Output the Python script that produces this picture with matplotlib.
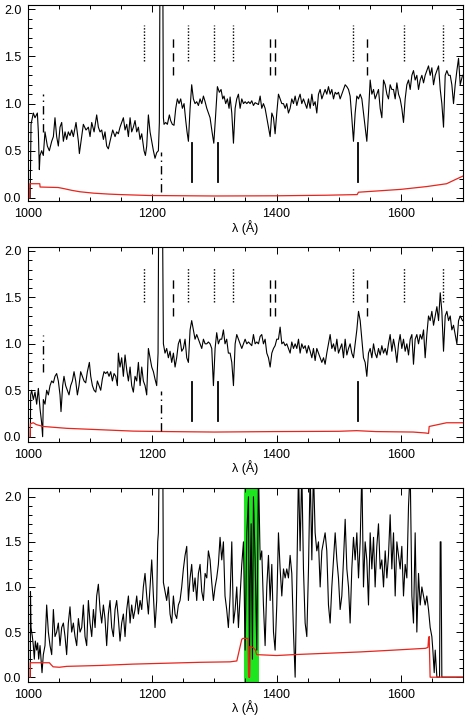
import numpy as np
import matplotlib
matplotlib.use("Agg")
import matplotlib.pyplot as plt

plt.rcParams['font.family'] = ['Liberation Sans', 'DejaVu Sans']

# ---------------- Panel 1 spectrum ----------------
wave1 = [1003.0, 1004.4, 1008.1, 1010.8, 1014.6, 1016.2, 1017.8, 1018.9, 1021.5, 1024.2,
         1026.9, 1030.7, 1033.9, 1037.7, 1040.4, 1043.0, 1045.7, 1048.4, 1051.1, 1053.8,
         1056.5, 1059.2, 1061.8, 1064.5, 1067.2, 1069.9, 1072.6, 1076.9, 1080.7, 1082.3,
         1086.1, 1088.7, 1093.0, 1096.8, 1099.5, 1102.2, 1106.0, 1110.2, 1112.9, 1115.6,
         1118.3, 1121.0, 1123.6, 1126.3, 1129.0, 1131.7, 1136.0, 1139.8, 1142.4, 1145.1,
         1147.8, 1150.5, 1153.2, 1155.9, 1158.6, 1161.3, 1164.0, 1166.6, 1169.3, 1172.0,
         1174.7, 1177.4, 1180.1, 1182.8, 1186.5, 1188.7, 1190.8, 1193.5, 1196.2, 1198.9,
         1201.6, 1204.2, 1206.9, 1209.6, 1211.2, 1212.3, 1216.6, 1217.7, 1218.7, 1221.4,
         1224.1, 1227.3, 1229.4, 1232.1, 1234.8, 1237.6, 1240.2, 1242.9, 1245.6, 1248.3,
         1251.0, 1253.7, 1255.8, 1258.0, 1260.7, 1263.3, 1266.0, 1268.7, 1271.4, 1274.1,
         1276.8, 1279.5, 1282.2, 1284.9, 1287.6, 1290.2, 1292.9, 1296.1, 1298.9, 1301.6,
         1304.7, 1307.9, 1310.6, 1313.3, 1315.4, 1318.1, 1320.8, 1323.5,
         1325.2, 1327.9, 1330.6, 1333.3, 1335.9, 1338.6, 1341.3, 1344.0, 1346.7, 1349.4,
         1352.1, 1354.8, 1357.4, 1360.1, 1362.8, 1365.5, 1368.2, 1370.9, 1373.6, 1376.2,
         1378.9, 1381.6, 1384.3, 1387.0, 1389.7, 1392.4, 1395.1, 1397.7, 1400.4, 1403.1,
         1405.8, 1408.5, 1411.2, 1413.9, 1416.5, 1419.2, 1421.9, 1424.6, 1427.3, 1430.0,
         1432.7, 1435.4, 1438.0, 1440.7, 1443.4, 1446.1, 1448.8, 1451.5, 1454.2, 1456.9,
         1459.5, 1462.2, 1464.9, 1467.6, 1470.3, 1473.0, 1475.7, 1478.3, 1481.0, 1483.7,
         1486.4, 1489.1, 1491.8, 1494.5, 1497.2, 1499.8, 1502.5, 1505.2, 1507.9, 1510.6,
         1513.3, 1516.0, 1518.6, 1521.3, 1524.0, 1526.7, 1529.4, 1532.1, 1534.8, 1537.5,
         1540.1, 1542.8, 1545.5, 1548.2, 1550.9, 1553.6, 1556.3, 1558.9, 1561.6, 1564.3,
         1567.0, 1569.7, 1572.4, 1575.1, 1577.8, 1580.4, 1583.1, 1585.8, 1588.5, 1591.2,
         1593.9, 1596.6, 1599.2, 1601.9, 1604.6, 1607.3, 1610.0, 1612.7, 1615.4, 1618.1,
         1620.7, 1623.4, 1626.1, 1628.8, 1631.5, 1634.2, 1636.9, 1639.5, 1642.2, 1644.9,
         1647.6, 1650.3, 1653.0, 1655.7, 1658.4, 1661.1, 1663.8, 1666.4, 1669.1, 1671.8,
         1674.5, 1677.2, 1679.9, 1682.5, 1685.2, 1687.9, 1690.6, 1693.3, 1696.0, 1699.7]
flux1 = [0.0, 0.78, 0.9, 0.85, 0.9, 0.7, 0.3, 0.45, 0.5, 0.45,
         0.7, 0.55, 0.5, 0.6, 0.65, 0.85, 0.65, 0.55, 0.75, 0.8,
         0.6, 0.7, 0.62, 0.7, 0.66, 0.72, 0.65, 0.8, 0.6, 0.47,
         0.65, 0.78, 0.72, 0.75, 0.65, 0.8, 0.7, 0.88, 0.75, 0.7,
         0.72, 0.62, 0.7, 0.55, 0.52, 0.6, 0.72, 0.65, 0.7, 0.68,
         0.75, 0.8, 0.85, 0.72, 0.78, 0.65, 0.85, 0.7, 0.75, 0.82,
         0.7, 0.75, 0.62, 0.68, 0.5, 0.45, 0.55, 0.88, 0.7, 0.6,
         0.5, 0.42, 0.48, 0.5, 0.8, 2.6, 2.6, 0.85, 0.78, 0.8,
         0.78, 0.88, 0.82, 0.78, 0.77, 0.95, 1.05, 1.0, 1.05, 0.95,
         1.0, 0.82, 0.7, 0.6, 0.95, 1.2, 1.05, 1.0, 1.02, 0.98,
         1.05, 1.0, 1.08, 1.02, 0.95, 0.9, 0.85, 0.7, 0.58, 0.85,
         1.18, 1.12, 1.15, 1.05, 1.08, 1.0, 1.05, 0.95,
         1.07, 0.9, 0.58, 0.95, 1.05, 1.1, 0.95, 1.05, 1.0, 1.02,
         1.0, 1.02, 1.0, 1.03, 0.98, 1.01, 1.0, 0.99, 1.08, 0.95,
         1.0, 0.95, 0.85, 0.75, 0.65, 0.9, 0.85, 0.68, 0.9, 1.1,
         1.05, 1.0, 1.0, 0.95, 1.0, 0.9, 0.95, 1.05, 1.0, 1.08,
         0.98, 1.05, 1.1, 1.0, 1.05, 1.0, 0.95, 1.05, 0.95, 1.1,
         0.98, 1.02, 0.9, 1.1, 1.15, 1.05, 1.1, 1.15, 1.1, 1.18,
         1.1, 1.15, 1.05, 1.12, 1.1, 1.12, 1.05, 1.1, 1.15, 1.2,
         1.18, 1.15, 1.08, 0.85, 0.6, 0.9, 1.08, 1.05, 1.1, 1.05,
         0.9, 0.75, 0.6, 0.9, 1.25, 1.1, 1.15, 1.05, 1.1, 1.15,
         0.95, 0.85, 1.25, 1.2, 1.1, 1.05, 1.2, 1.15, 1.15, 1.05,
         1.22, 1.1, 1.05, 0.95, 0.8, 1.05, 1.2, 1.25, 1.15, 1.3,
         1.35, 1.25, 1.3, 1.15, 1.25, 1.3, 1.22, 1.3, 1.35, 1.4,
         1.3, 1.38, 1.2, 1.3, 1.35, 1.4, 1.15, 1.0, 0.75, 1.3,
         1.35, 1.3, 1.3, 1.2, 1.0, 1.2, 1.35, 1.48, 1.2, 1.3]
err_wave1 = [1002.0, 1002.5, 1018.5, 1019.0, 1048.0, 1056.0, 1070.0, 1083.0, 1105.0, 1130.0,
             1148.0, 1196.0, 1300.0, 1400.0, 1480.0, 1530.0, 1532.0, 1566.0, 1600.0, 1642.0,
             1674.0, 1690.0, 1700.0]
err1 = [0.0, 0.15, 0.15, 0.115, 0.11, 0.10, 0.08, 0.065, 0.05, 0.04,
        0.035, 0.025, 0.02, 0.022, 0.028, 0.035, 0.06, 0.075, 0.09, 0.12,
        0.15, 0.2, 0.23]

# ---------------- Panel 2 spectrum ----------------
wave2 = [1003.3, 1003.8, 1005.4, 1008.1, 1010.8, 1013.5, 1016.2, 1018.9, 1021.5, 1023.1,
         1024.2, 1026.9, 1029.6, 1032.3, 1035.0, 1037.7, 1040.4, 1043.0, 1045.7, 1048.4,
         1051.1, 1052.7, 1055.4, 1057.5, 1060.2, 1062.9, 1065.6, 1068.3, 1071.0, 1073.7,
         1076.4, 1079.1, 1081.7, 1084.4, 1087.1, 1089.8, 1092.5, 1095.2, 1098.4, 1100.6,
         1103.3, 1106.0, 1108.7, 1111.3, 1114.0, 1116.7, 1119.3, 1122.0, 1124.7, 1127.4,
         1130.1, 1132.8, 1135.5, 1138.2, 1140.9, 1143.5, 1145.1, 1147.8, 1150.5, 1153.2,
         1155.9, 1158.6, 1161.3, 1164.0, 1166.6, 1169.3, 1172.0, 1174.7, 1177.4, 1180.1,
         1182.8, 1185.4, 1188.1, 1190.8, 1193.5, 1196.2, 1198.9, 1201.6, 1204.2, 1206.9,
         1209.1, 1210.2, 1216.0, 1217.7, 1220.3, 1223.0, 1225.7, 1228.4, 1231.1, 1233.8,
         1236.5, 1239.1, 1241.8, 1244.5, 1247.2, 1249.9, 1252.6, 1255.3, 1258.0, 1260.7,
         1263.3, 1266.0, 1268.7, 1271.4, 1274.1, 1276.8, 1279.5, 1282.2, 1284.9, 1287.6,
         1290.2, 1292.9, 1295.6, 1298.3, 1301.0, 1303.6, 1306.3, 1309.0, 1311.7, 1314.4,
         1317.0, 1319.7, 1322.4,
         1325.2, 1327.9, 1330.6, 1333.3, 1335.9, 1338.6, 1341.3, 1344.0, 1346.7, 1349.4,
         1352.1, 1354.8, 1357.4, 1360.1, 1362.8, 1365.5, 1368.2, 1370.9, 1373.6, 1376.2,
         1378.9, 1381.6, 1384.3, 1387.0, 1389.7, 1392.4, 1395.1, 1397.7, 1400.4, 1403.1,
         1405.8, 1408.5, 1411.2, 1413.9, 1416.5, 1419.2, 1421.9, 1424.6, 1427.3, 1430.0,
         1432.7, 1435.4, 1438.0, 1440.7, 1443.4, 1446.1, 1448.8, 1451.5, 1454.2, 1456.9,
         1459.5, 1462.2, 1464.9, 1467.6, 1470.3, 1473.0, 1475.7, 1478.3, 1481.0, 1483.7,
         1486.4, 1489.1, 1491.8, 1494.5, 1497.2, 1499.8, 1502.5, 1505.2, 1507.9, 1510.6,
         1513.3, 1516.0, 1518.6, 1521.3, 1524.0, 1526.7, 1529.4, 1532.1, 1534.8, 1537.5,
         1540.1, 1542.8, 1545.5, 1548.2, 1550.9, 1553.6, 1556.3, 1558.9, 1561.6, 1564.3,
         1567.0, 1569.7, 1572.4, 1575.1, 1577.8, 1580.4, 1583.1, 1585.8, 1588.5, 1591.2,
         1593.9, 1596.6, 1599.2, 1601.9, 1604.6, 1607.3, 1610.0, 1612.7, 1615.4, 1618.1,
         1620.7, 1623.4, 1626.1, 1628.8, 1631.5, 1634.2, 1636.9, 1639.5, 1642.2, 1644.9,
         1647.6, 1650.3, 1653.0, 1655.7, 1658.4, 1661.1, 1663.8, 1666.4, 1669.1, 1671.8,
         1674.5, 1677.2, 1679.9, 1682.5, 1685.2, 1687.9, 1690.6, 1693.3, 1696.0, 1699.7]
flux2 = [0.0, 0.45, 0.5, 0.4, 0.48, 0.35, 0.52, 0.3, 0.15, 0.0,
         0.4, 0.35, 0.5, 0.45, 0.55, 0.6, 0.58, 0.65, 0.68, 0.6,
         0.45, 0.27, 0.55, 0.65, 0.55, 0.5, 0.45, 0.55, 0.6, 0.7,
         0.6, 0.45, 0.55, 0.7, 0.65, 0.6, 0.58, 0.7, 0.8, 0.65,
         0.55, 0.5, 0.48, 0.6, 0.55, 0.5, 0.62, 0.7, 0.68, 0.7,
         0.65, 0.7, 0.6, 0.68, 0.65, 0.55, 0.9, 0.75, 0.85, 0.65,
         0.88, 0.72, 0.6, 0.75, 0.55, 0.48, 0.65, 0.6, 0.8, 0.55,
         0.75, 0.6, 0.55, 0.45, 0.95, 0.85, 0.75, 0.7, 0.62, 0.55,
         0.9, 2.6, 2.6, 1.0, 0.9, 0.95, 0.85, 0.92, 0.8, 0.9,
         0.75, 0.85, 1.0, 1.05, 0.92, 0.95, 1.05, 0.85, 0.8, 1.15,
         1.25, 1.15, 1.05, 1.1, 1.05, 1.0, 0.95, 1.05, 1.0, 1.0,
         1.02, 1.0, 0.95, 0.55, 0.95, 1.12, 1.0, 1.05, 1.05, 1.15,
         1.0, 1.05, 0.9,
         0.9, 0.8, 0.55, 1.0, 1.1, 1.05, 1.0, 0.95, 1.0, 1.05,
         1.0, 1.02, 1.0, 0.98, 1.1, 1.0, 1.02, 1.0, 1.08, 1.1,
         1.0, 1.05, 0.9, 0.85, 0.75, 0.9, 0.95, 0.98, 1.05, 1.05,
         1.18, 1.0, 1.02, 0.98, 1.0, 0.95, 0.9, 1.02, 0.95, 1.0,
         0.95, 1.05, 0.9, 1.0, 0.95, 0.98, 0.9, 0.98, 0.92, 0.85,
         0.95, 0.82, 0.95, 0.9, 0.85, 0.8, 0.85, 0.78, 0.9, 1.0,
         1.1, 0.95, 1.0, 0.92, 1.05, 0.9, 0.95, 1.0, 0.85, 1.05,
         0.88, 0.95, 1.0, 0.9, 0.85, 1.0, 1.15, 1.35, 1.25, 1.05,
         0.85, 0.8, 0.65, 0.9, 0.95, 0.85, 1.0, 0.9, 0.85, 0.95,
         0.88, 0.98, 0.9, 0.95, 0.88, 1.0, 1.1, 0.92, 1.05, 0.95,
         0.8, 1.0, 1.1, 0.95, 1.05, 0.92, 1.0, 0.88, 1.05, 1.1,
         0.78, 1.05, 1.1, 1.0, 1.1, 1.05, 1.15, 0.85, 1.1, 1.3,
         1.25, 1.35, 1.2, 1.3, 1.4, 1.25, 1.55, 1.35, 0.92, 1.3,
         1.35, 1.25, 1.3, 1.15, 1.2, 1.1, 1.0, 1.25, 1.3, 1.25]
err_wave2 = [1003.0, 1003.5, 1008.0, 1013.0, 1024.0, 1062.0, 1116.0, 1169.0, 1223.0, 1300.0,
             1400.0, 1500.0, 1529.0, 1560.0, 1620.0, 1640.0, 1645.0, 1646.0, 1660.0, 1674.0,
             1700.0]
err2 = [0.0, 0.14, 0.15, 0.13, 0.11, 0.09, 0.075, 0.06, 0.055, 0.05,
        0.055, 0.058, 0.065, 0.055, 0.05, 0.04, 0.035, 0.11, 0.13, 0.15,
        0.15]

# ---------------- Panel 3 spectrum ----------------
wave3 = [1003.3, 1003.5, 1004.4, 1006.5, 1008.1, 1009.7, 1011.3, 1013.5, 1015.1, 1016.7,
         1018.9, 1020.5, 1022.1, 1024.2, 1026.9, 1029.6, 1032.3, 1035.0, 1037.7, 1040.4,
         1043.0, 1045.7, 1048.4, 1051.1, 1053.8, 1056.5, 1059.2, 1061.8, 1064.5, 1067.2,
         1069.9, 1072.6, 1075.3, 1078.0, 1080.7, 1083.4, 1086.1, 1088.7, 1091.4, 1094.1,
         1096.8, 1099.5, 1102.2, 1104.9, 1107.6, 1110.2, 1112.9, 1115.6, 1118.3, 1121.0,
         1123.6, 1126.3, 1129.0, 1131.7, 1134.4, 1137.1, 1139.8, 1142.4, 1145.1, 1147.8,
         1150.5, 1153.2, 1155.9, 1158.6, 1161.3, 1164.0, 1166.6, 1169.3, 1172.0, 1174.7,
         1177.4, 1180.1, 1182.8, 1185.4, 1188.1, 1190.8, 1193.5, 1196.2, 1198.9, 1201.6,
         1204.2, 1206.9, 1208.5, 1209.6, 1211.2, 1216.6, 1217.7, 1220.3, 1223.0, 1225.7,
         1228.4, 1231.1, 1233.8, 1236.5, 1239.1, 1241.8, 1244.5, 1247.2, 1249.9, 1252.6,
         1255.3, 1258.0, 1260.7, 1263.3, 1266.0, 1268.7, 1271.4, 1274.1, 1276.8, 1279.5,
         1282.2, 1284.9, 1287.6, 1290.2, 1292.9, 1295.6, 1298.3, 1301.0, 1303.6, 1306.3,
         1309.0, 1311.7, 1314.4, 1317.0, 1319.7, 1322.4,
         1325.2, 1327.9, 1330.6, 1333.3, 1335.9, 1338.6, 1341.3, 1344.0, 1346.7, 1349.4,
         1352.1, 1354.8, 1356.4, 1357.4, 1359.1, 1361.2, 1362.8, 1365.5, 1368.2, 1370.9,
         1373.6, 1376.2, 1378.9, 1381.6, 1384.3, 1387.0, 1389.7, 1392.4, 1395.1, 1397.7,
         1400.4, 1403.1, 1405.8, 1408.5, 1411.2, 1413.9, 1416.5, 1419.2, 1421.9, 1424.6,
         1427.3, 1430.0, 1432.7, 1435.4, 1438.0, 1440.7, 1443.4, 1446.1, 1448.8, 1451.5,
         1454.2, 1456.9, 1459.5, 1462.2, 1464.9, 1467.6, 1470.3, 1473.0, 1475.7, 1478.3,
         1481.0, 1483.7, 1486.4, 1489.1, 1491.8, 1494.5, 1497.2, 1499.8, 1502.5, 1505.2,
         1507.9, 1510.6, 1513.3, 1516.0, 1518.6, 1521.3, 1524.0, 1526.7, 1529.4, 1532.1,
         1534.8, 1537.5, 1540.1, 1542.8, 1545.5, 1548.2, 1550.9, 1553.6, 1556.3, 1558.9,
         1561.6, 1564.3, 1567.0, 1569.7, 1572.4, 1575.1, 1577.8, 1580.4, 1583.1, 1585.8,
         1588.5, 1591.2, 1593.9, 1596.6, 1599.2, 1601.9, 1604.6, 1607.3, 1610.0, 1612.7,
         1615.4, 1618.1, 1620.7, 1623.4, 1626.1, 1628.8, 1631.5, 1634.2, 1636.9, 1639.5,
         1642.2, 1644.9, 1647.6, 1650.3, 1651.9, 1654.1, 1655.7, 1658.4, 1661.1, 1662.7,
         1663.8, 1665.0, 1666.4, 1699.7]
flux3 = [0.0, 0.95, 0.55, 0.45, 0.35, 0.2, 0.4, 0.3, 0.38, 0.2,
         0.35, 0.2, 0.05, 0.25, 0.35, 0.8, 0.5, 0.35, 0.25, 0.75,
         0.45, 0.5, 0.6, 0.35, 0.55, 0.6, 0.45, 0.25, 0.6, 0.78,
         0.5, 0.6, 0.45, 0.35, 0.65, 0.5, 0.55, 0.8, 0.45, 0.35,
         0.85, 0.6, 0.45, 0.75, 0.55, 0.9, 1.03, 0.75, 0.6, 0.8,
         0.65, 0.35, 0.7, 0.85, 0.55, 0.45, 0.75, 0.85, 0.65, 0.4,
         0.6, 0.7, 0.45, 0.75, 0.9, 0.6, 0.8, 0.65, 0.75, 0.9,
         0.7, 0.85, 0.75, 1.0, 1.15, 0.9, 0.7, 1.0, 1.3, 0.9,
         0.55, 0.85, 1.5, 1.6, 2.6, 2.6, 1.05, 0.95, 0.85, 1.0,
         0.7, 0.6, 0.9, 0.7, 0.65, 0.8, 0.85, 1.0, 1.2, 1.35,
         1.45, 0.85, 1.1, 1.25, 0.95, 1.1, 0.85, 1.15, 1.25, 0.95,
         0.85, 1.15, 1.1, 1.4, 1.3, 1.05, 0.85, 1.0, 1.1, 1.25,
         1.55, 1.3, 1.5, 0.9, 0.75, 0.55,
         0.9, 1.5, 0.6, 0.75, 1.0, 0.55, 0.9, 1.25, 1.5, 0.3,
         1.6, 2.0, 0.0, 1.0, 1.7, 0.2, 2.0, 1.3, 0.3, 2.3,
         1.3, 1.4, 0.8, 0.35, 1.0, 1.35, 0.85, 1.25, 0.5, 0.3,
         0.8, 1.6, 1.2, 0.9, 1.2, 1.1, 1.2, 1.1, 1.35, 1.15,
         0.5, 0.0, 1.1, 2.3, 1.4, 2.3, 1.2, 0.6, 0.45, 1.2,
         2.3, 1.3, 2.3, 1.6, 1.4, 1.5, 1.0, 1.4, 1.5, 1.6,
         1.4, 0.8, 0.6, 1.0, 1.3, 1.6, 1.3, 1.1, 0.75, 0.9,
         1.3, 1.75, 1.2, 1.0, 0.6, 1.2, 1.55, 1.3, 1.6, 1.1,
         1.5, 2.3, 1.0, 1.5, 1.3, 0.8, 1.6, 1.2, 1.55, 1.0,
         1.45, 1.7, 1.2, 1.3, 1.0, 1.4, 1.1, 1.35, 1.8, 1.2,
         1.6, 0.9, 1.5, 1.35, 1.2, 1.45, 0.9, 1.25, 1.1, 1.9,
         2.3, 0.9, 0.6, 1.6, 0.5, 1.15, 0.8, 1.0, 0.9, 0.8,
         0.9, 0.75, 0.55, 0.45, 0.3, 0.05, 0.3, 0.0, 0.0, 0.0,
         1.5, 1.5, 0.0, 0.0]
err_wave3 = [1003.0, 1003.3, 1034.0, 1036.5, 1040.0, 1050.0, 1062.0, 1116.0, 1169.0, 1223.0,
             1277.0, 1325.0, 1336.0, 1340.0, 1344.0, 1346.0, 1354.0, 1355.0, 1356.5, 1357.0,
             1362.0, 1366.0, 1368.0, 1400.0, 1427.0, 1481.0, 1535.0, 1589.0, 1640.0, 1644.0,
             1645.0, 1646.0, 1647.5, 1700.0]
err3 = [0.0, 0.16, 0.16, 0.14, 0.115, 0.11, 0.12, 0.13, 0.145, 0.155,
        0.165, 0.17, 0.18, 0.3, 0.42, 0.43, 0.43, 0.0, 0.0, 0.34,
        0.33, 0.30, 0.25, 0.24, 0.25, 0.265, 0.28, 0.30, 0.32, 0.33,
        0.43, 0.45, 0.0, 0.0]

# ---------------- Line markers (panels 1 and 2) ----------------
dotted_lines = [1187.0, 1257.0, 1299.0, 1329.5, 1524.0, 1605.7, 1669.0]
dotted_range = (1.45, 1.83)
dashed_lines = [1233.5, 1389.7, 1398.2, 1545.0]
dashed_range = (1.30, 1.73)
dashdot_top_lines = [1023.0]
dashdot_top_range = (0.70, 1.10)
dashdot_bottom_lines = [1214.5]
dashdot_bottom_range = (0.06, 0.49)
solid_lines = [1263.4, 1306.0, 1531.0]
solid_range = (0.17, 0.585)

band3 = (1348.0, 1371.0)

W, H = 471, 715
fig = plt.figure(figsize=(W / 100, H / 100), dpi=100)

left = 28.3 / W
width = (462.7 - 28.3) / W
panels = [
    dict(top=5.0, bottom=200.7, ylim=(-0.03, 2.046), wave=wave1, flux=flux1, ew=err_wave1, err=err1, marks=True),
    dict(top=246.7, bottom=441.7, ylim=(-0.054, 2.046), wave=wave2, flux=flux2, ew=err_wave2, err=err2, marks=True),
    dict(top=487.7, bottom=681.7, ylim=(-0.05, 2.10), wave=wave3, flux=flux3, ew=err_wave3, err=err3, marks=False),
]
label_y = [228, 468, 708]

for i, p in enumerate(panels):
    ax = fig.add_axes([left, 1 - p['bottom'] / H, width, (p['bottom'] - p['top']) / H])
    ax.plot(p['wave'], p['flux'], color='black', lw=0.8, zorder=3)
    ax.plot(p['ew'], p['err'], color='#e8241c', lw=0.9, zorder=4)
    ax.set_xlim(1000, 1700)
    ax.set_ylim(*p['ylim'])
    ax.set_xticks([1000, 1200, 1400, 1600])
    ax.set_xticks(np.arange(1000, 1701, 50), minor=True)
    ax.set_yticks([0.0, 0.5, 1.0, 1.5, 2.0])
    ax.set_yticklabels(['0.0', '0.5', '1.0', '1.5', '2.0'])
    ax.set_yticks(np.arange(0, 2.01, 0.1), minor=True)
    ax.tick_params(which='both', direction='in', top=True, right=True, labelsize=9,
                   width=0.7, colors='black')
    ax.tick_params(which='major', length=5)
    ax.tick_params(which='minor', length=2.8)
    ax.tick_params(axis='x', pad=5)
    ax.tick_params(axis='y', pad=5)
    for s in ax.spines.values():
        s.set_linewidth(0.8)
    if p['marks']:
        for x in dotted_lines:
            ax.plot([x, x], dotted_range, color='black', lw=1.0, ls=(0, (1, 1.3)), zorder=5)
        for x in dashed_lines:
            ax.plot([x, x], dashed_range, color='black', lw=1.0, ls=(0, (6, 4)), zorder=5)
        for x in dashdot_top_lines:
            ax.plot([x, x], dashdot_top_range, color='black', lw=1.0, ls=(0, (6, 3, 1, 3)), zorder=5)
        for x in dashdot_bottom_lines:
            ax.plot([x, x], dashdot_bottom_range, color='black', lw=1.0, ls=(0, (6, 3, 1, 3)), zorder=5)
        for x in solid_lines:
            ax.plot([x, x], solid_range, color='black', lw=1.3, zorder=5)
    else:
        ax.axvspan(band3[0], band3[1], color='#1ee61e', lw=0, zorder=1)
    fig.text(245 / W, 1 - label_y[i] / H, 'λ (Å)', ha='center', va='center', fontsize=9)

fig.savefig('out.png', dpi=100)
